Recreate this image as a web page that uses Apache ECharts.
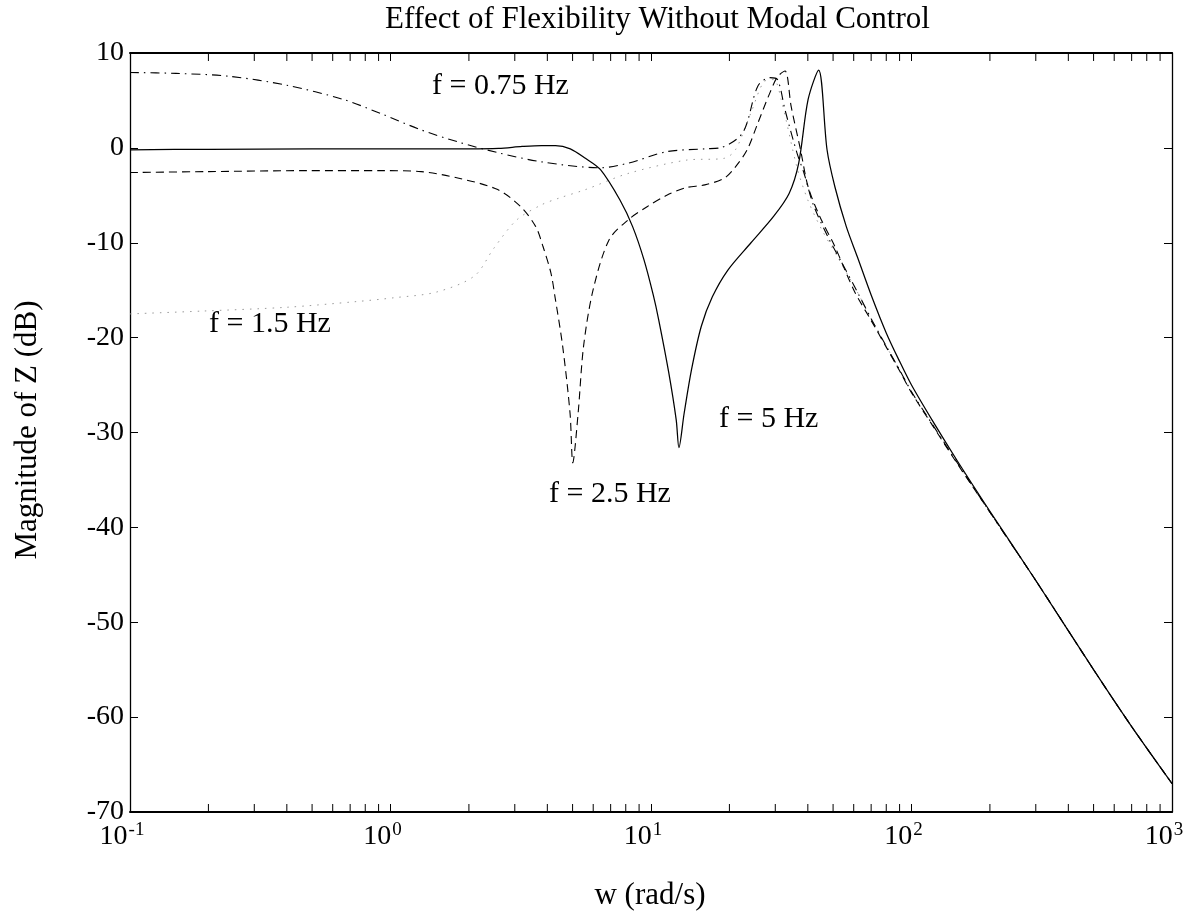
<!DOCTYPE html>
<html>
<head>
<meta charset="utf-8">
<script src="https://cdn.jsdelivr.net/npm/echarts@6/dist/echarts.min.js"></script>
<style>
  html, body { margin: 0; padding: 0; background: #fff; }
  #chart { width: 1189px; height: 918px; }
</style>
</head>
<body>
<div id="chart"></div>
<script>
// Frequency response magnitude, [w (rad/s), dB] for each mode frequency
const curve5Hz = [
  [0.1, -0.2], [0.2, -0.15], [0.5, -0.1], [1, -0.1], [2, -0.1], [2.6, -0.05], [3.2, 0.15],
  [3.8, 0.25], [4.3, 0.25], [4.9, -0.1], [5.6, -1.1], [6.4, -2.3], [7.6, -5.5], [8.5, -8.3],
  [9.4, -11.8], [10.2, -15.5], [10.7, -18.1], [11.7, -23.7], [12.5, -28.7], [12.8, -31.6],
  [13.4, -28], [14.3, -23.4], [15.6, -18.8], [17.2, -15.7], [19.7, -12.9], [24.2, -10],
  [29.6, -7.2], [33.9, -4.8], [36.9, -1.6], [40.1, 5.1], [44, 8.2], [47.4, -0.2], [50.8, -4.1],
  [56.2, -8.3], [62, -11.5], [70, -15.5], [80, -19.5], [90, -22.5], [100, -25], [120, -28.7],
  [150, -33], [200, -38.3], [300, -45.6], [500, -55], [700, -61], [1000, -67]
];
const curve2p5Hz = [
  [0.1, -2.6], [0.2, -2.5], [0.47, -2.4], [0.94, -2.4], [1.31, -2.5], [1.83, -3.2], [2.58, -4.4],
  [3.16, -6.2], [3.61, -8.3], [3.85, -10.4], [4.13, -13.2], [4.28, -15.7], [4.58, -20.9],
  [4.89, -28], [5.01, -33.2], [5.25, -28], [5.51, -20.9], [5.99, -15], [6.9, -9.7], [8.16, -7.6],
  [9.66, -6.2], [11.5, -5], [13.6, -4.2], [16.1, -3.9], [19.1, -3.2], [21.1, -2], [23.4, -0.2],
  [25.7, 2.6], [28.6, 5.8], [30.6, 7.5], [32.7, 8.1], [34.5, 4.4], [37.5, -0.2], [40.1, -4.1],
  [44.4, -7.2], [50.8, -10.4], [60.1, -15], [70, -18.2], [80, -21], [90, -23.5], [100, -25.8],
  [120, -29.2], [150, -33.3], [200, -38.4], [300, -45.6], [500, -55], [700, -61], [1000, -67]
];
const curve0p75Hz = [
  [0.1, 7.95], [0.15, 7.85], [0.24, 7.55], [0.4, 6.6], [0.66, 5.1], [0.94, 3.5], [1.31, 1.9],
  [1.83, 0.6], [2.58, -0.5], [3.85, -1.5], [6.4, -2.1], [8.2, -1.6], [11.5, -0.4], [16.1, -0.1],
  [18.4, 0], [22.5, 1.6], [25.7, 6.5], [28.6, 7.4], [30.6, 7.2], [32.7, 4], [36.3, -0.5],
  [38.7, -2.7], [42, -6], [48, -9.5], [55, -12.5], [62, -15.2], [70, -18], [80, -20.9],
  [90, -23.4], [100, -25.7], [120, -29.1], [150, -33.2], [200, -38.4], [300, -45.6], [500, -55],
  [700, -61], [1000, -67]
];
const curve1p5Hz = [
  [0.1, -17.5], [0.19, -17.2], [0.4, -16.8], [0.74, -16.2], [1.03, -15.8], [1.5, -15.2],
  [2.1, -13.5], [2.49, -10.6], [3.05, -7.6], [3.8, -6], [4.43, -5.3], [5.6, -4.4], [8.16, -2.7],
  [13.6, -1.3], [19.1, -1.1], [21.1, -0.2], [24.2, 3.7], [27.2, 7.0], [29.6, 7.2], [31.6, 5.1],
  [36.3, -2], [40, -5.5], [45, -8.5], [52, -11.5], [62, -15.2], [70, -18], [80, -20.9],
  [90, -23.4], [100, -25.7], [120, -29.1], [150, -33.2], [200, -38.4], [300, -45.6], [500, -55],
  [700, -61], [1000, -67]
];

// Axis ranges
const wMin = 0.1, wMax = 1000;
const dbMin = -70, dbMax = 10, dbStep = 10;

// Minor log ticks 2..9 within each decade
const minorTicks = [];
for (let d = wMin; d < wMax; d *= 10) {
  for (let k = 2; k <= 9; k++) minorTicks.push([+(k * d).toPrecision(6), dbMin]);
}

const FONT = '"Liberation Serif", "DejaVu Serif", serif';
const TICK = 8;

const chart = echarts.init(document.getElementById('chart'), null, { renderer: 'canvas' });

const lineBase = { type: 'line', showSymbol: false, symbol: 'none', smooth: 0.3, z: 3 };

chart.setOption({
  animation: false,
  backgroundColor: '#fff',
  grid: { left: 130, right: 17, top: 53, bottom: 106, containLabel: false },
  xAxis: [
    {
      type: 'log', logBase: 10, min: wMin, max: wMax, position: 'bottom',
      axisLine: { show: true, onZero: false, lineStyle: { color: '#000', width: 2 } },
      axisTick: { show: true, inside: true, length: TICK, lineStyle: { color: '#000', width: 1 } },
      splitLine: { show: false },
      axisLabel: {
        margin: 9,
        padding: [0, 16, 0, 0],
        formatter: v => '{b|10}{s|' + Math.round(Math.log10(v)) + '}',
        rich: {
          b: { fontFamily: FONT, fontSize: 28, color: '#000', lineHeight: 30, verticalAlign: 'bottom' },
          s: { fontFamily: FONT, fontSize: 19, color: '#000', lineHeight: 30, verticalAlign: 'top', padding: [0, 0, 0, 1] }
        }
      }
    },
    {
      type: 'log', logBase: 10, min: wMin, max: wMax, position: 'top',
      axisLine: { show: true, onZero: false, lineStyle: { color: '#000', width: 2 } },
      axisTick: { show: true, inside: true, length: TICK, lineStyle: { color: '#000', width: 1 } },
      axisLabel: { show: false },
      splitLine: { show: false }
    }
  ],
  yAxis: [
    {
      type: 'value', min: dbMin, max: dbMax, interval: dbStep, position: 'left',
      axisLine: { show: true, onZero: false, lineStyle: { color: '#000', width: 1.3 } },
      axisTick: { show: true, inside: true, length: TICK, lineStyle: { color: '#000', width: 1 } },
      splitLine: { show: false },
      axisLabel: { margin: 6, fontFamily: FONT, fontSize: 28, color: '#000' }
    },
    {
      type: 'value', min: dbMin, max: dbMax, interval: dbStep, position: 'right',
      axisLine: { show: true, onZero: false, lineStyle: { color: '#000', width: 1.3 } },
      axisTick: { show: true, inside: true, length: TICK, lineStyle: { color: '#000', width: 1 } },
      splitLine: { show: false },
      axisLabel: { show: false }
    }
  ],
  series: [
    Object.assign({}, lineBase, { name: 'f = 1.5 Hz', data: curve1p5Hz, lineStyle: { color: '#9a9a9a', width: 1, type: [1.5, 6] } }),
    Object.assign({}, lineBase, { name: 'f = 0.75 Hz', data: curve0p75Hz, lineStyle: { color: '#000', width: 1.1, type: [9, 5, 1.5, 5] } }),
    Object.assign({}, lineBase, { name: 'f = 2.5 Hz', data: curve2p5Hz, lineStyle: { color: '#000', width: 1.1, type: [8, 5] } }),
    Object.assign({}, lineBase, { name: 'f = 5 Hz', data: curve5Hz, lineStyle: { color: '#000', width: 1.25, type: 'solid' } }),
    {
      type: 'custom', name: 'minor ticks', silent: true, clip: false, z: 4,
      data: minorTicks,
      renderItem: function (params, api) {
        const w = api.value(0);
        const b = api.coord([w, dbMin]);
        const t = api.coord([w, dbMax]);
        const st = { stroke: '#000', lineWidth: 1 };
        return {
          type: 'group',
          children: [
            { type: 'line', shape: { x1: b[0], y1: b[1], x2: b[0], y2: b[1] - TICK }, style: st },
            { type: 'line', shape: { x1: t[0], y1: t[1], x2: t[0], y2: t[1] + TICK }, style: st }
          ]
        };
      }
    }
  ],
  graphic: [
    { type: 'text', left: 385, top: 4, style: { text: 'Effect of Flexibility Without Modal Control', font: '31px ' + FONT, fill: '#000' } },
    { type: 'text', x: 650, y: 896, style: { text: 'w (rad/s)', font: '31px ' + FONT, fill: '#000', textAlign: 'center', textVerticalAlign: 'middle' } },
    { type: 'text', x: 28, y: 430, rotation: Math.PI / 2, style: { text: 'Magnitude of Z (dB)', font: '31px ' + FONT, fill: '#000', textAlign: 'center', textVerticalAlign: 'middle' } },
    { type: 'text', x: 432, y: 86, style: { text: 'f = 0.75 Hz', font: '30px ' + FONT, fill: '#000', textVerticalAlign: 'middle' } },
    { type: 'text', x: 209, y: 324, style: { text: 'f = 1.5 Hz', font: '30px ' + FONT, fill: '#000', textVerticalAlign: 'middle' } },
    { type: 'text', x: 549, y: 494, style: { text: 'f = 2.5 Hz', font: '30px ' + FONT, fill: '#000', textVerticalAlign: 'middle' } },
    { type: 'text', x: 719, y: 419, style: { text: 'f = 5 Hz', font: '30px ' + FONT, fill: '#000', textVerticalAlign: 'middle' } }
  ]
});
</script>
</body>
</html>
